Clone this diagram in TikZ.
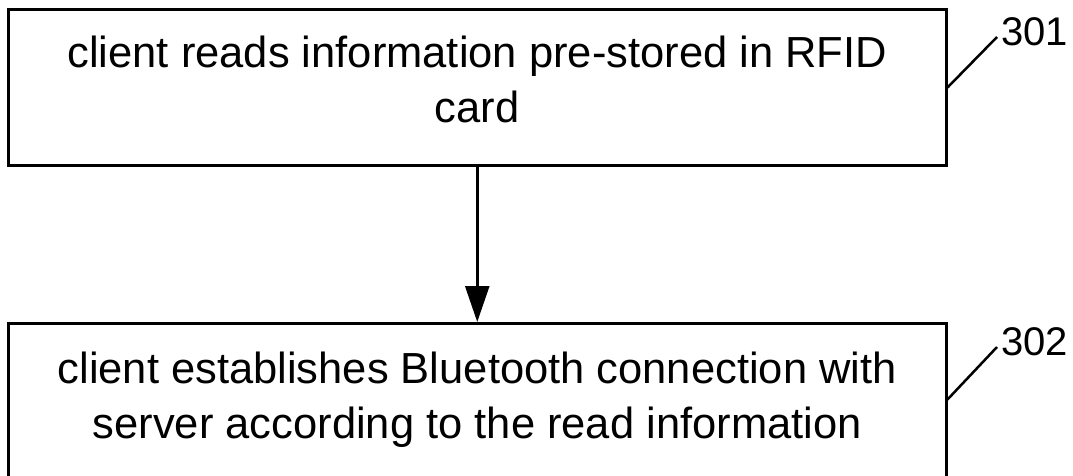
\documentclass[tikz,border=0pt]{standalone}
\usepackage{fontspec}
\setmainfont{Liberation Sans}
\usetikzlibrary{arrows.meta}
\begin{document}
\begin{tikzpicture}[x=1pt,y=1pt,
  stepbox/.style={draw=black, line width=3pt, inner sep=0pt, align=center,
    minimum width=937.5pt, font=\fontsize{43.5}{55}\selectfont},
  flow/.style={line width=2.5pt, -{Triangle[length=36pt,width=24pt]}},
  leader/.style={line width=2.5pt},
  reflabel/.style={inner sep=0pt, anchor=west, font=\fontsize{40}{44}\selectfont}]
\useasboundingbox (0,0) rectangle (1073,475);
\node[stepbox, minimum height=155pt] (box1) at (477.25,387.5)
  {client reads information pre-stored in RFID\\card\rule[-17.4pt]{0pt}{17.4pt}};
\node[stepbox, minimum height=164pt, anchor=north] (box2) at (477.25,153)
  {client establishes Bluetooth connection with\\server according to the read information\rule[-21.4pt]{0pt}{21.4pt}};
\draw[flow] (box1.south) -- (box2.north);
\node[reflabel] (lab1) at (1001,443) {301};
\node[reflabel] (lab2) at (1001,133) {302};
\coordinate (c1) at (997,438);
\coordinate (c2) at (997,128);
\draw[leader] (box1.east) -- (c1);
\draw[leader] ([yshift=6pt]box2.east) -- (c2);
\end{tikzpicture}
\end{document}
